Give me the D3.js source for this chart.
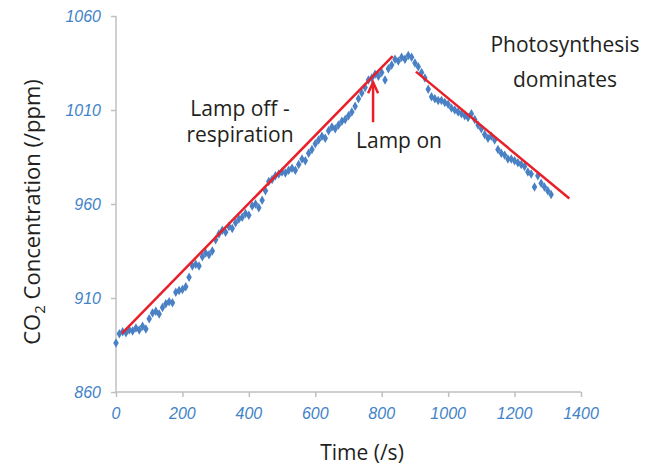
<!DOCTYPE html>
<html>
<head>
	<meta charset="UTF-8">
	<title>CO2 concentration</title>
	<style>
		body { margin: 0; background: #fff; }
		.tick-label { font-family: "Liberation Sans", Arial, sans-serif; font-style: italic; font-size: 16px; fill: #4283c8; }
		.title, .note { font-family: "Open Sans", sans-serif; font-size: 21px; fill: #231f20; }
	</style>
</head>
<body>
<script src="https://cdn.jsdelivr.net/npm/d3@7"></script>
<script>

'use strict';

// time (s) of each reading
var times = [
	0, 10, 20, 30, 40, 50, 60, 70, 80, 90,
	100, 110, 120, 130, 140, 150, 160, 170, 180, 190,
	200, 210, 220, 230, 240, 250, 260, 270, 280, 290,
	300, 310, 320, 330, 340, 350, 360, 370, 380, 390,
	400, 410, 420, 430, 440, 450, 460, 470, 480, 490,
	500, 510, 520, 530, 540, 550, 560, 570, 580, 590,
	600, 610, 620, 630, 640, 650, 660, 670, 680, 690,
	700, 710, 720, 730, 740, 750, 760, 770, 780, 790,
	800, 810, 820, 830, 840, 850, 860, 870, 880, 890,
	900, 910, 920, 930, 940, 950, 960, 970, 980, 990,
	1000, 1010, 1020, 1030, 1040, 1050, 1060, 1070, 1080, 1090,
	1100, 1110, 1120, 1130, 1140, 1150, 1160, 1170, 1180, 1190,
	1200, 1210, 1220, 1230, 1240, 1250, 1260, 1270, 1280, 1290,
	1300, 1310
];

// CO2 concentration (ppm)
var co2 = [
	886, 891, 892, 891.5, 893, 892.5, 894, 893, 895, 893.5,
	899, 902, 903, 901.5, 905, 907, 908, 907.5, 913, 914,
	914.5, 916, 921, 927, 928, 927, 932, 934, 933, 935,
	941, 944, 946, 945, 948, 947, 950, 952, 953, 955,
	954, 959, 960, 958, 962, 967, 972, 973, 975, 976,
	977, 976.5, 978, 979, 978, 981, 984, 983, 987, 989,
	992, 994, 996, 995, 999, 1001, 1000, 1002, 1004, 1005,
	1007, 1009, 1012, 1016, 1019, 1022, 1026, 1027, 1029, 1028,
	1030, 1026, 1032, 1034, 1037, 1036, 1038, 1037, 1039, 1038,
	1035, 1033, 1030, 1027, 1021, 1017, 1016, 1015, 1015, 1014,
	1013, 1011, 1010, 1009, 1008, 1007, 1006, 1008, 1005, 1002,
	1000, 997, 995, 996, 994, 989, 987, 986, 984, 984,
	983, 982, 981, 980, 977, 976, 969, 975, 971, 969,
	967, 965
];

// fitted trend lines [time, ppm]
var respirationFit = [[18, 891.2], [833, 1038.7]];
var photoFit = [[903, 1030.4], [1365, 962.9]];

// "Lamp on" arrow [time, ppm]
var arrowFrom = [774, 1003.5];
var arrowTo = [774, 1024.8];

var xTicks = [0, 200, 400, 600, 800, 1000, 1200, 1400];
var yTicks = [860, 910, 960, 1010, 1060];

var width = 654;
var height = 469;
var margin = {top: 16, right: 73, bottom: 77, left: 116};

var x = d3.scaleLinear()
	.domain([0, 1400])
	.range([margin.left, width - margin.right]);

var y = d3.scaleLinear()
	.domain([860, 1060])
	.range([height - margin.bottom, margin.top]);

var svg = d3.select("body").append("svg")
	.attr("width", width)
	.attr("height", height);

var axisColor = "#bfbfbf";

// axes
var xAxis = svg.append("g")
	.attr("transform", "translate(0," + y(860) + ")")
	.call(d3.axisBottom(x).tickValues(xTicks).tickSize(5).tickFormat(""));
var yAxis = svg.append("g")
	.attr("transform", "translate(" + x(0) + ",0)")
	.call(d3.axisLeft(y).tickValues(yTicks).tickSize(5).tickFormat(""));

[xAxis, yAxis].forEach(function(a){
	a.select(".domain").attr("stroke", axisColor).attr("stroke-width", 1.5);
	a.selectAll(".tick line").attr("stroke", axisColor).attr("stroke-width", 1.5);
});
yAxis.select(".domain").attr("d", "M0," + y(1060) + "V" + y(860));
xAxis.select(".domain").attr("d", "M" + x(0) + ",0H" + x(1400));

svg.selectAll(".xlab")
	.data(xTicks)
	.enter().append("text")
	.attr("class", "tick-label")
	.attr("x", function(d){ return x(d); })
	.attr("y", y(860) + 27)
	.attr("text-anchor", "middle")
	.text(function(d){ return d; });

svg.selectAll(".ylab")
	.data(yTicks)
	.enter().append("text")
	.attr("class", "tick-label")
	.attr("x", x(0) - 15)
	.attr("y", function(d){ return y(d); })
	.attr("dy", "0.36em")
	.attr("text-anchor", "end")
	.text(function(d){ return d; });

// axis titles
svg.append("text")
	.attr("class", "title")
	.attr("x", 362)
	.attr("y", 460)
	.attr("text-anchor", "middle")
	.text("Time (/s)");

var yt = svg.append("text")
	.attr("class", "title")
	.attr("transform", "translate(40,212) rotate(-90)")
	.attr("text-anchor", "middle")
	.style("font-size", "22px");
yt.append("tspan").text("CO");
yt.append("tspan").attr("font-size", "15px").attr("dy", "5").text("2");
yt.append("tspan").attr("dy", "-5").text(" Concentration (/ppm)");

// data points
var pts = times.map(function(t, i){ return [t, co2[i]]; });
svg.append("g")
	.selectAll("path")
	.data(pts)
	.enter().append("path")
	.attr("d", d3.symbol().type(d3.symbolDiamond).size(26))
	.attr("transform", function(d){ return "translate(" + x(d[0]) + "," + y(d[1]) + ")"; })
	.attr("fill", "#4a80c4");

// trend lines
var line = d3.line()
	.x(function(d){ return x(d[0]); })
	.y(function(d){ return y(d[1]); });

svg.selectAll(".fit")
	.data([respirationFit, photoFit])
	.enter().append("path")
	.attr("d", line)
	.attr("fill", "none")
	.attr("stroke", "#e8202a")
	.attr("stroke-width", 2.5);

// arrow
var ax = x(arrowTo[0]), ay = y(arrowTo[1]);
svg.append("path")
	.attr("d", line([arrowFrom, arrowTo]))
	.attr("stroke", "#e8202a")
	.attr("stroke-width", 2.5);
svg.append("path")
	.attr("d", "M" + (ax - 5) + "," + (ay + 11) + "L" + ax + "," + ay + "L" + (ax + 5) + "," + (ay + 11))
	.attr("fill", "none")
	.attr("stroke", "#e8202a")
	.attr("stroke-width", 2.5);

// notes
var notes = [
	{text: "Lamp off -", x: 240, y: 116},
	{text: "respiration", x: 240, y: 142},
	{text: "Lamp on", x: 399, y: 148},
	{text: "Photosynthesis", x: 565, y: 52},
	{text: "dominates", x: 565, y: 87}
];
svg.selectAll(".note")
	.data(notes)
	.enter().append("text")
	.attr("class", "note")
	.attr("x", function(d){ return d.x; })
	.attr("y", function(d){ return d.y; })
	.attr("text-anchor", "middle")
	.text(function(d){ return d.text; });

</script>
</body>
</html>
